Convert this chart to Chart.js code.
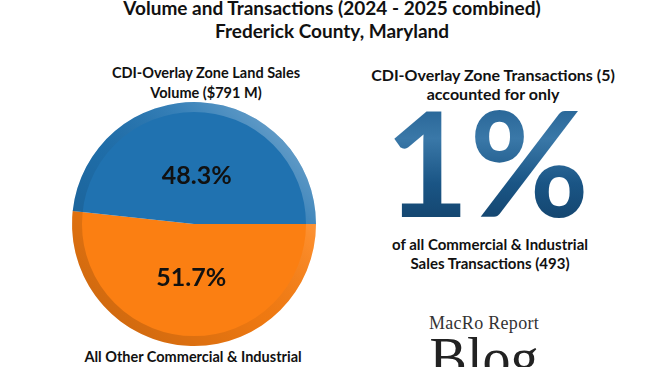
<!DOCTYPE html>
<html>
<head>
<meta charset="utf-8">
<script src="https://cdn.jsdelivr.net/npm/chart.js@4.4.1/dist/chart.umd.min.js"></script>
<style>
  html, body { margin: 0; padding: 0; background: #fff; }
  #wrap { position: relative; width: 664px; height: 367px; overflow: hidden; background: #fff;
          font-family: Lato, "Open Sans", sans-serif; color: #111; }
  .t { position: absolute; width: 300px; text-align: center; font-weight: bold; white-space: nowrap; }
  #pieBox { position: absolute; left: 62px; top: 92px; width: 264px; height: 264px; }
  #big { position: absolute; left: 377px; top: 86px; width: 220px; text-align: center;
         font-family: Lato, sans-serif; font-weight: bold; font-size: 146px; line-height: 150px;
         letter-spacing: 0px;
         background: linear-gradient(180deg, #1d5a8c 0%, #3a78a8 35%, #1a5585 65%, #123f66 100%);
         -webkit-background-clip: text; background-clip: text; color: transparent; }
  .logo1 { position: absolute; left: 384px; top: 313px; width: 200px; text-align: center;
           font-family: "Liberation Serif", serif; font-size: 18px; color: #333; letter-spacing: 0.3px; }
  .logo2 { position: absolute; left: 384px; top: 330px; width: 200px; text-align: center;
           font-family: "Liberation Serif", serif; font-size: 56px; color: #222; line-height: 56px; }
</style>
</head>
<body>
<div id="wrap">
  <div class="t" id="title1" style="left:0;width:664px;top:-4px;font-size:19px;">Volume and Transactions (2024 - 2025 combined)</div>
  <div class="t" id="title2" style="left:0;width:664px;top:19px;font-size:19px;">Frederick County, Maryland</div>

  <div class="t" id="pieTop" style="left:56px;top:63px;font-size:14.5px;line-height:20px;"></div>
  <div class="t" id="pieBottom" style="left:43px;top:348px;font-size:14.5px;"></div>

  <div class="t" id="txTop" style="left:343px;top:65px;font-size:16px;line-height:19px;"></div>
  <div id="big"></div>
  <div class="t" id="txBottom" style="left:340px;top:235px;font-size:15px;line-height:19px;"></div>

  <div class="logo1">MacRo Report</div>
  <div class="logo2">Blog</div>

  <div id="pieBox"><canvas id="pie" width="264" height="264"></canvas></div>
</div>

<script>
// pie: share of land sales volume
const pieLabels = ['All Other Commercial & Industrial', 'CDI-Overlay Zone'];
const pieValues = [51.7, 48.3];
const cdiVolume = 791; // $ M

// transactions
const cdiTransactions = 5;
const allTransactions = 493;

const pieColors = ['#fb7f12', '#2072b0'];

document.getElementById('pieTop').innerHTML =
  `CDI-Overlay Zone Land Sales<br>Volume ($${cdiVolume} M)`;
document.getElementById('pieBottom').textContent = pieLabels[0];
document.getElementById('txTop').innerHTML =
  `CDI-Overlay Zone Transactions (${cdiTransactions})<br>accounted for only`;
document.getElementById('big').textContent =
  `${Math.round(cdiTransactions / allTransactions * 100)}%`;
document.getElementById('txBottom').innerHTML =
  `of all Commercial &amp; Industrial<br>Sales Transactions (${allTransactions})`;

// labels inside slices + a little rim shading
const sliceText = {
  id: 'sliceText',
  afterDatasetsDraw(chart) {
    const ctx = chart.ctx;
    const arcs = chart.getDatasetMeta(0).data;
    const a0 = arcs[0];
    const cx = a0.x, cy = a0.y, R = a0.outerRadius;

    // rim shading
    ctx.save();
    const g = ctx.createLinearGradient(cx - R, cy + R, cx + R, cy - R);
    g.addColorStop(0, 'rgba(0,0,0,0.22)');
    g.addColorStop(0.45, 'rgba(0,0,0,0.05)');
    g.addColorStop(0.7, 'rgba(255,255,255,0.1)');
    g.addColorStop(1, 'rgba(255,255,255,0.45)');
    ctx.beginPath();
    ctx.arc(cx, cy, R - 5, 0, Math.PI * 2);
    ctx.lineWidth = 10;
    ctx.strokeStyle = g;
    ctx.stroke();
    ctx.restore();

    ctx.save();
    ctx.font = 'bold 25px Lato, sans-serif';
    ctx.fillStyle = '#111';
    ctx.textAlign = 'center';
    ctx.textBaseline = 'middle';
    arcs.forEach((arc, i) => {
      const mid = (arc.startAngle + arc.endAngle) / 2;
      const r = R * 0.42;
      ctx.fillText(pieValues[i].toFixed(1) + '%', cx + Math.cos(mid) * r, cy + Math.sin(mid) * r + 3);
    });
    ctx.restore();
  }
};

new Chart(document.getElementById('pie'), {
  type: 'pie',
  data: {
    labels: pieLabels,
    datasets: [{
      data: pieValues,
      backgroundColor: pieColors,
      borderWidth: 0
    }]
  },
  options: {
    responsive: false,
    animation: false,
    rotation: 90,
    layout: { padding: 10 },
    plugins: {
      legend: { display: false },
      tooltip: { enabled: false }
    }
  },
  plugins: [sliceText]
});
</script>
</body>
</html>
